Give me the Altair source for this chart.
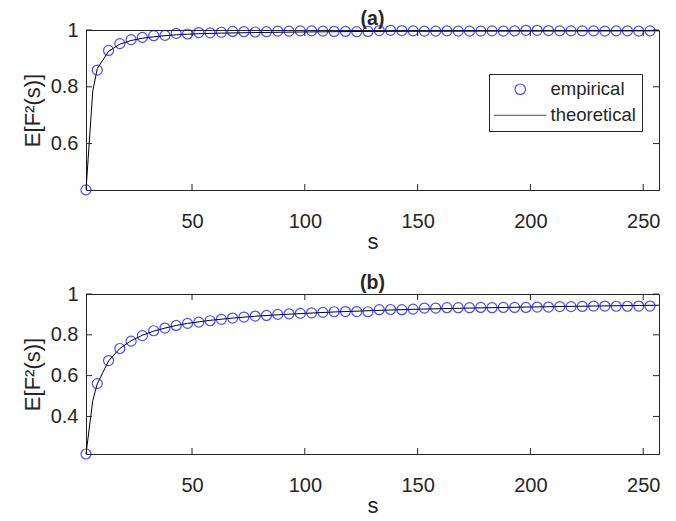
import altair as alt
import pandas as pd

# ---------------- data ----------------
s_emp = [3, 8, 13, 18, 23, 28, 33, 38, 43, 48, 53, 58, 63, 68, 73, 78, 83, 88, 93, 98,
         103, 108, 113, 118, 123, 128, 133, 138, 143, 148, 153, 158, 163, 168, 173, 178,
         183, 188, 193, 198, 203, 208, 213, 218, 223, 228, 233, 238, 243, 248, 253]

a_emp = [0.437, 0.859, 0.928, 0.952, 0.966, 0.974, 0.980, 0.981, 0.988, 0.986, 0.991,
         0.990, 0.992, 0.995, 0.994, 0.993, 0.994, 0.996, 0.996, 0.997, 0.997, 0.996,
         0.995, 0.995, 0.994, 0.995, 0.998, 0.999, 0.998, 0.997, 0.996, 0.996, 0.997,
         0.996, 0.996, 0.996, 0.997, 0.996, 0.997, 0.999, 0.999, 0.998, 0.997, 0.997,
         0.997, 0.997, 0.996, 0.997, 0.997, 0.996, 0.997]

b_emp = [0.216, 0.561, 0.674, 0.733, 0.769, 0.796, 0.820, 0.833, 0.846, 0.856, 0.862,
         0.869, 0.876, 0.882, 0.887, 0.892, 0.895, 0.900, 0.903, 0.905, 0.908, 0.910,
         0.913, 0.914, 0.914, 0.913, 0.923, 0.924, 0.923, 0.926, 0.931, 0.931, 0.933,
         0.933, 0.933, 0.934, 0.933, 0.934, 0.934, 0.934, 0.936, 0.936, 0.938, 0.938,
         0.939, 0.941, 0.941, 0.940, 0.940, 0.941, 0.941]

a_theo_s = [3, 6, 8, 13, 18, 23, 28, 33, 38, 43, 48, 53, 63, 78, 98, 128, 178, 257]
a_theo = [0.437, 0.785, 0.864, 0.925, 0.950, 0.963, 0.971, 0.976, 0.980, 0.983, 0.985,
          0.987, 0.989, 0.991, 0.993, 0.995, 0.996, 0.997]

b_theo_s = [3, 6, 8, 13, 18, 23, 28, 33, 38, 43, 48, 58, 68, 78, 88, 98, 113, 128, 148,
            173, 198, 228, 257]
b_theo = [0.216, 0.478, 0.560, 0.672, 0.733, 0.771, 0.798, 0.818, 0.833, 0.846, 0.856,
          0.871, 0.882, 0.891, 0.898, 0.904, 0.912, 0.918, 0.925, 0.931, 0.936, 0.941,
          0.945]

x_ticks = [50, 100, 150, 200, 250]
a_y_ticks = [0.6, 0.8, 1.0]
b_y_ticks = [0.4, 0.6, 0.8, 1.0]
series_names = ["empirical", "theoretical"]

# ---------------- style ----------------
W, H = 573, 160
AX = "#262626"
FONT = "Liberation Sans"
TICK = 6


def panel(title, emp, theo_s, theo, ydom, yticks, with_legend):
    xs = alt.Scale(domain=[3, 257], nice=False, zero=False)
    ys = alt.Scale(domain=ydom, nice=False, zero=False)
    df_e = pd.DataFrame({"s": s_emp, "v": emp, "series": "empirical"})
    df_t = pd.DataFrame({"s": theo_s, "v": theo, "series": "theoretical"})

    xaxis = alt.Axis(values=x_ticks, title="s", ticks=False, domain=False, grid=False,
                     labelFontSize=20, labelFont=FONT, labelColor=AX, labelPadding=21,
                     titleFontSize=22, titleFont=FONT, titleColor=AX,
                     titleFontWeight="normal", titlePadding=0)
    yaxis = alt.Axis(values=yticks, title="E[F²(s)]", ticks=False, domain=False,
                     grid=False, format="~g",
                     labelFontSize=20, labelFont=FONT, labelColor=AX, labelPadding=8,
                     titleFontSize=22, titleFont=FONT, titleColor=AX,
                     titleFontWeight="normal", titlePadding=6)

    X = lambda f: alt.X(f, scale=xs, axis=xaxis, title="s")
    Y = lambda f: alt.Y(f, scale=ys, axis=yaxis, title="E[F²(s)]")

    line = alt.Chart(df_t).mark_line(color="black", strokeWidth=1).encode(
        x=X("s:Q"), y=Y("v:Q"))

    if with_legend:
        leg = alt.Legend(orient="none", legendX=403, legendY=44, title=None,
                         labelFontSize=18.5, labelFont=FONT, labelColor=AX,
                         symbolSize=110, symbolStrokeWidth=1.2,
                         symbolOffset=16, labelOffset=21, padding=6, rowPadding=7,
                         strokeColor=AX, fillColor="white")
        shape = alt.Shape("series:N",
                          scale=alt.Scale(domain=series_names,
                                          range=["circle", "M-5,0H5"]),
                          legend=leg)
        color = alt.Color("series:N",
                          scale=alt.Scale(domain=series_names,
                                          range=["#0000ff", "#000000"]),
                          legend=leg)
    else:
        shape = alt.value("circle")
        color = alt.value("#0000ff")

    pts = alt.Chart(df_e).mark_point(filled=False, size=100, strokeWidth=1.2).encode(
        x=X("s:Q"), y=Y("v:Q"), shape=shape, color=color)

    xt = pd.DataFrame({"t": x_ticks})
    yt = pd.DataFrame({"t": yticks})
    rule = dict(color=AX, strokeWidth=1)
    xtop = alt.Chart(xt).mark_rule(**rule).encode(
        x=X("t:Q"), y=alt.value(0), y2=alt.value(TICK))
    xbot = alt.Chart(xt).mark_rule(**rule).encode(
        x=X("t:Q"), y=alt.value(H), y2=alt.value(H - TICK))
    yleft = alt.Chart(yt).mark_rule(**rule).encode(
        y=Y("t:Q"), x=alt.value(0), x2=alt.value(TICK))
    yright = alt.Chart(yt).mark_rule(**rule).encode(
        y=Y("t:Q"), x=alt.value(W), x2=alt.value(W - TICK))

    return alt.layer(line, pts, xtop, xbot, yleft, yright).properties(
        width=W, height=H,
        title=alt.Title(title, fontSize=19.5, fontWeight="bold", font=FONT, color=AX,
                        offset=-9),
    )


pa = panel("(a)", a_emp, a_theo_s, a_theo, [0.4365, 1.0], a_y_ticks, True)
pb = panel("(b)", b_emp, b_theo_s, b_theo, [0.216, 1.0], b_y_ticks, False)

chart = alt.vconcat(pa, pb, spacing=19).resolve_scale(
    x="independent", y="independent", color="independent", shape="independent"
).properties(
    padding={"left": 12, "top": 0, "right": 0, "bottom": 0},
    background="white",
).configure_view(stroke=AX, strokeWidth=1)

chart.save("out.html", embed_options={"renderer": "svg", "actions": False})
